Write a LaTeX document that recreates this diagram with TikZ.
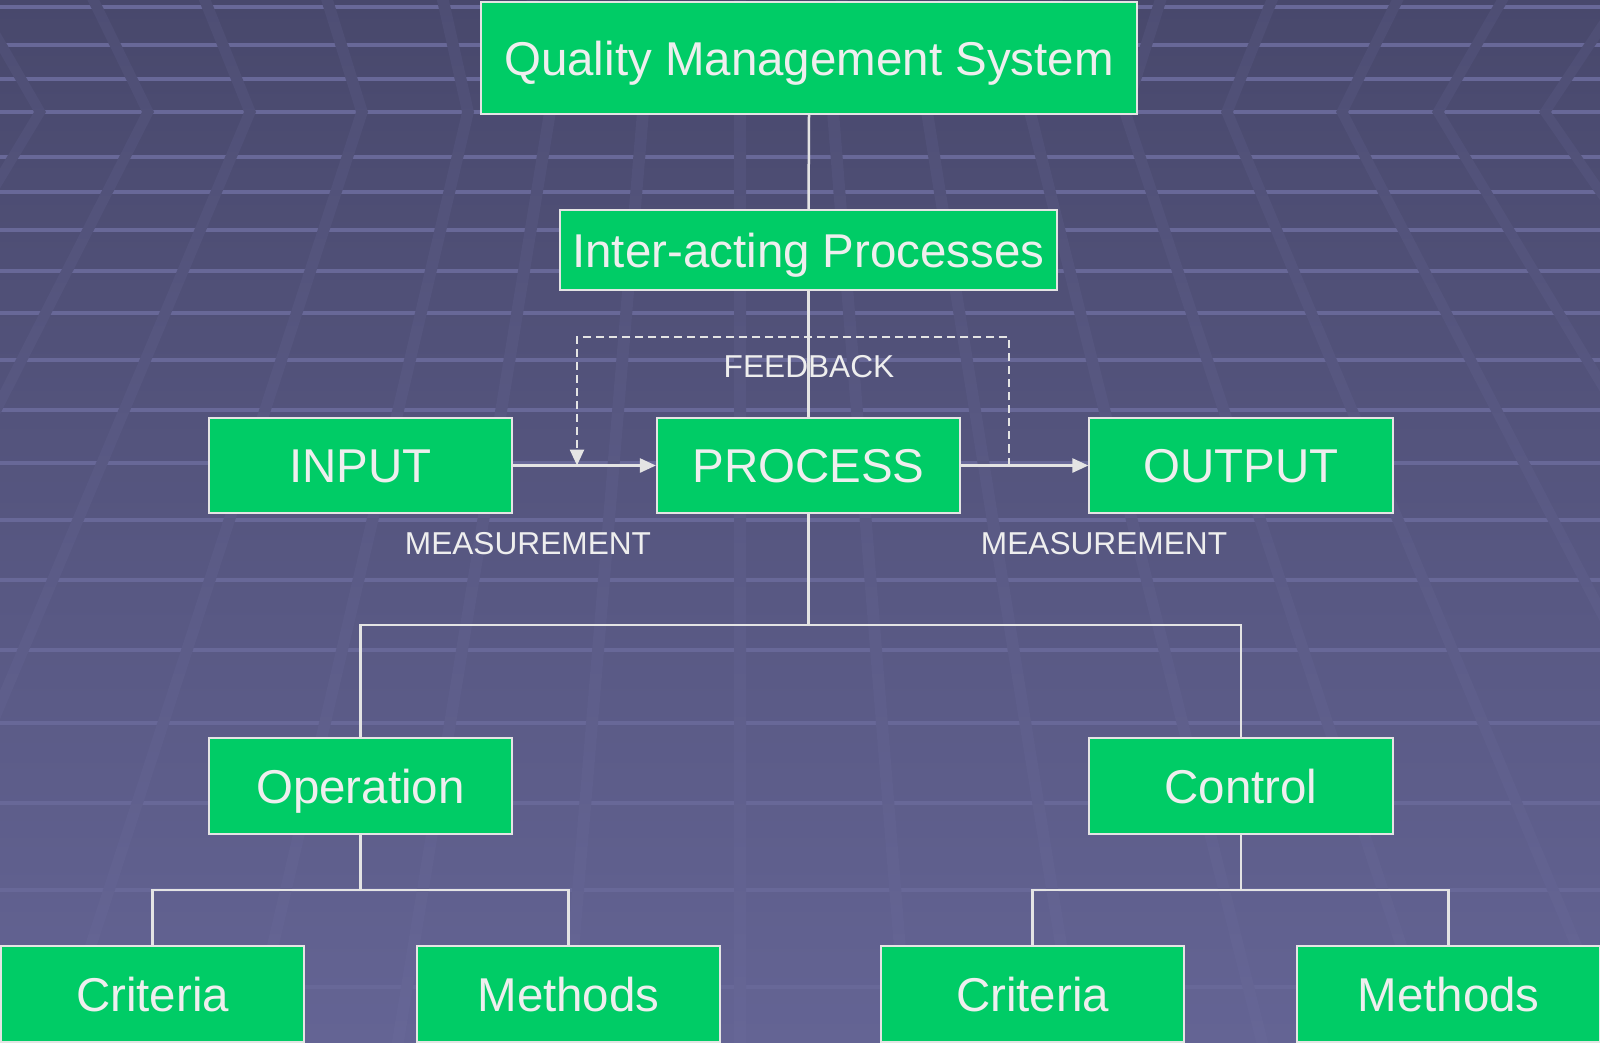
\documentclass[tikz,border=0pt]{standalone}
\usepackage{fontspec}
\setmainfont{Liberation Sans}
\usetikzlibrary{arrows.meta}

\definecolor{bgtop}{RGB}{72,72,108}
\definecolor{bgbot}{RGB}{100,100,148}
\definecolor{chevtop}{RGB}{78,78,116}
\definecolor{chevbot}{RGB}{102,102,150}
\definecolor{gridcol}{RGB}{104,104,152}
\definecolor{qgreen}{RGB}{0,204,102}
\definecolor{boxedge}{RGB}{228,228,228}
\definecolor{boxtext}{RGB}{238,238,238}

\tikzset{
  procbox/.style={draw=boxedge, line width=0.02cm, fill=qgreen, text=boxtext,
    inner sep=0pt, minimum width=3.03cm, minimum height=0.95cm,
    text height=0.34cm, text depth=0pt, font=\fontsize{13.5}{16}\selectfont},
  link/.style={draw=boxedge, line width=0.025cm},
  flow/.style={link, -{Triangle[length=0.16cm,width=0.14cm]}},
  fbline/.style={flow, dash pattern=on 0.08cm off 0.05cm},
  note/.style={text=boxtext, inner sep=0pt, font=\fontsize{9}{11}\selectfont},
  gridline/.style={draw=gridcol, line width=0.04cm},
}

\begin{document}
\begin{tikzpicture}[x=0.01cm, y=-0.01cm]
    \useasboundingbox (0,0) rectangle (1600,1042);
    \clip (0,0) rectangle (1600,1042);

    % background: gradient, floor lines and chevrons
    \shade[top color=bgtop, bottom color=bgbot] (0,0) rectangle (1600,1042);
    \foreach \hy in {7,45,79,112,157,192,230,271,313,360,410,463,520,580,650,723,803,890,987}
        \draw[gridline] (0,\hy) -- (1600,\hy);
    \begin{scope}
        \clip foreach \v in {40,148,250,362,468,550,643,740,833,927,1030,1125,1227,1342,1438,1545} {
            ({\v+(\v-740)/1162*112-6},-5) -- (\v-6,112) -- ({\v+(\v-740)/1162*935-6},1047)
            -- ({\v+(\v-740)/1162*935+6},1047) -- (\v+6,112) -- ({\v+(\v-740)/1162*112+6},-5) -- cycle};
        \shade[top color=chevtop, bottom color=chevbot] (0,0) rectangle (1600,1042);
    \end{scope}

    % boxes
    \node[procbox, minimum width=6.56cm, minimum height=1.12cm] (qms) at (809,58) {Quality Management System};
    \node[procbox, minimum width=4.97cm, minimum height=0.80cm] (inter) at (808.5,250) {Inter-acting Processes};
    \node[procbox] (input) at (360.5,465.5) {INPUT};
    \node[procbox] (process) at (808.5,465.5) {PROCESS};
    \node[procbox] (output) at (1241,465.5) {OUTPUT};
    \node[procbox, minimum height=0.96cm] (operation) at (360.5,786) {Operation};
    \node[procbox, minimum height=0.96cm] (control) at (1241,786) {Control};
    \node[procbox, minimum height=0.96cm] (crit1) at (152.5,994) {Criteria};
    \node[procbox, minimum height=0.96cm] (meth1) at (568.5,994) {Methods};
    \node[procbox, minimum height=0.96cm] (crit2) at (1032.5,994) {Criteria};
    \node[procbox, minimum height=0.96cm] (meth2) at (1448.5,994) {Methods};

    % labels
    \node[note] (feedback) at (809,367) {FEEDBACK};
    \node[note] (meas1) at (528,544) {MEASUREMENT};
    \node[note] (meas2) at (1104,544) {MEASUREMENT};

    % branch points
    \coordinate (bar) at (808.5,625);
    \coordinate (lbar) at (360.5,890);
    \coordinate (rbar) at (1241,890);
    \coordinate (fbR) at (1009,465.5);
    \coordinate (fbRtop) at (1009,337);
    \coordinate (fbLtop) at (577,337);
    \coordinate (fbL) at (577,465.5);

    % tree lines
    \draw[link] (qms.south) -- (inter.north);
    \draw[link] (inter.south) -- (process.north);
    \draw[link] (process.south) -- (bar);
    \draw[link] (operation.north) |- (bar) -| (control.north);
    \draw[link] (operation.south) -- (lbar);
    \draw[link] (crit1.north) |- (lbar) -| (meth1.north);
    \draw[link] (control.south) -- (rbar);
    \draw[link] (crit2.north) |- (rbar) -| (meth2.north);

    % flow and feedback
    \draw[flow] (input) -- (process);
    \draw[flow] (process) -- (output);
    \draw[fbline] (fbR) -- (fbRtop) -- (fbLtop) -- (fbL);
\end{tikzpicture}
\end{document}
